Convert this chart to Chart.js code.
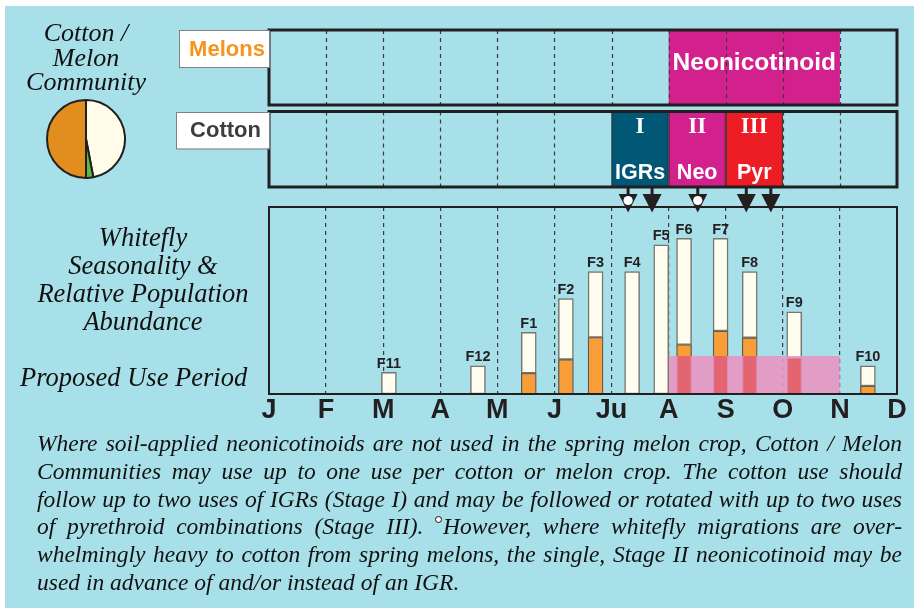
<!DOCTYPE html>
<html>
<head>
<meta charset="utf-8">
<script src="https://cdn.jsdelivr.net/npm/chart.js@4.4.1/dist/chart.umd.min.js"></script>
<style>
  body { margin:0; width:914px; height:608px; background:#fff; position:relative; overflow:hidden; }
  #bg { position:absolute; left:5px; top:6px; right:0; bottom:0; background:#a8e0ea; }
  canvas { position:absolute; }
  .lbl { position:absolute; font-family:'Liberation Serif','Times New Roman',serif; font-style:italic; color:#111; text-align:center; white-space:nowrap; }
  #note { position:absolute; left:37px; top:430px; width:865px; font:italic 23.5px/27.8px 'Liberation Serif','Times New Roman',serif; color:#111; }
  #note div { text-align:justify; text-align-last:justify; height:27.8px; }
  #note div.last { text-align-last:left; }
  .ring { display:inline-block; width:5px; height:5px; border:1.5px solid #111; border-radius:50%; background:#fff; vertical-align:11px; margin-right:1px; }
</style>
</head>
<body>
<div id="bg"></div>
<canvas id="main" width="914" height="440" style="left:0;top:0"></canvas>
<canvas id="pie" width="80" height="80" style="left:46px;top:99px"></canvas>

<div class="lbl" style="left:0;top:21px;width:172px;font-size:26px;line-height:24.5px">Cotton /<br>Melon<br>Community</div>
<div class="lbl" style="left:20px;top:224px;width:246px;font-size:26.5px;line-height:27.9px">Whitefly<br>Seasonality &amp;<br>Relative Population<br>Abundance</div>
<div class="lbl" style="left:20px;top:363px;font-size:26.5px;line-height:28px;text-align:left">Proposed Use Period</div>

<div id="note">
  <div>Where soil-applied neonicotinoids are not used in the spring melon crop, Cotton / Melon</div>
  <div>Communities may use up to one use per cotton or melon crop. The cotton use should</div>
  <div>follow up to two uses of IGRs (Stage I) and may be followed or rotated with up to two uses</div>
  <div>of pyrethroid combinations (Stage III). <span class="ring"></span>However, where whitefly migrations are over-</div>
  <div>whelmingly heavy to cotton from spring melons, the single, Stage II neonicotinoid may be</div>
  <div class="last">used in advance of and/or instead of an IGR.</div>
</div>

<script>
// -------------------- DATA -------------------
// months along the x axis (0 = January ... 11 = December)
const months = ['J','F','M','A','M','J','Ju','A','S','O','N','D'];

// whitefly flights: position in months, relative abundance, melon-derived part
const flightLabels = ['F11','F12','F1','F2','F3','F4','F5','F6','F7','F8','F9','F10'];
const flightMonth  = [2.10, 3.66, 4.55, 5.20, 5.72, 6.36, 6.87, 7.27, 7.91, 8.42, 9.20, 10.49];
const flightTotal  = [11.6, 15.1, 33.0, 51.0, 65.4, 65.4, 79.8, 83.3, 83.3, 65.4, 43.9, 15.1];
const flightMelon  = [0, 0, 11.1, 18.5, 30.3, 0, 0, 26.4, 33.7, 30.1, 18.9, 4.3];

// proposed use period (shaded band)
const proposedStart = 7;
const proposedEnd = 10;
const proposedLevel = 20.3;

// melons: neonicotinoid window
const melonNeoStart = 7;
const melonNeoEnd = 10;

// cotton stages
const stageNumeral = ['I','II','III'];
const stageName    = ['IGRs','Neo','Pyr'];
const stageStart   = [6, 7, 8];
const stageEnd     = [7, 8, 9];
const stageColor   = ['#005776','#d2208c','#ec1d25'];

// application arrows below cotton (open circle = optional neonicotinoid)
const applyMonth    = [6.29, 6.71, 7.51, 8.36, 8.79];
const applyOptional = [true, false, true, false, false];

// community pie
const pieLabels = ['Cotton','Other','Melons'];
const pieShares = [47, 3, 50];
const pieColors = ['#fffdea','#5cb848','#e28e1e'];

// -------------------- HELPERS -------------------
const SANS = "'Liberation Sans', Arial, sans-serif";
const SERIF = "'Liberation Serif', 'Times New Roman', serif";
const INK = '#231f20';

const MELON_TOP = 30, MELON_BOT = 105;
const COTTON_TOP = 111.5, COTTON_BOT = 187;

function dashedMonths(ctx, xs, top, bottom) {
  ctx.save();
  ctx.strokeStyle = '#3a3a3a';
  ctx.lineWidth = 1.2;
  ctx.setLineDash([4, 4]);
  for (let m = 1; m < months.length - 1; ++m) {
    let x = Math.round(xs.getPixelForValue(m)) + 0.5;
    ctx.beginPath();
    ctx.moveTo(x, top);
    ctx.lineTo(x, bottom);
    ctx.stroke();
  }
  ctx.restore();
}

function labelBox(ctx, x1, y1, x2, y2, text, color) {
  ctx.fillStyle = '#fff';
  ctx.fillRect(x1, y1, x2 - x1, y2 - y1);
  ctx.strokeStyle = '#808080';
  ctx.lineWidth = 1;
  ctx.strokeRect(x1 + 0.5, y1 + 0.5, x2 - x1, y2 - y1);
  ctx.fillStyle = color;
  ctx.font = 'bold 22px ' + SANS;
  ctx.textAlign = 'center';
  ctx.textBaseline = 'middle';
  ctx.fillText(text, (x1 + x2) / 2 + 3, (y1 + y2) / 2 + 1);
}

// -------------------- PLUGIN -------------------
const panels = {
  id: 'panels',
  afterDatasetsDraw(chart) {
    const ctx = chart.ctx;
    const xs = chart.scales.x, ys = chart.scales.y;
    const area = chart.chartArea;
    const px1 = xs.getPixelForValue(proposedStart);
    const px2 = xs.getPixelForValue(proposedEnd);
    const pTop = ys.getPixelForValue(proposedLevel);

    // melon part of bars seen through the band turns red
    ctx.save();
    ctx.fillStyle = 'rgba(226,98,110,0.95)';
    chart.getDatasetMeta(0).data.forEach(el => {
      if (el.x < px1 || el.x > px2) return;
      let top = Math.max(el.y, pTop);
      ctx.fillRect(el.x - el.width / 2 + 1, top, el.width - 2, el.base - top);
    });
    ctx.restore();

    // frame
    ctx.save();
    ctx.strokeStyle = INK;
    ctx.lineWidth = 2;
    ctx.strokeRect(area.left, area.top, area.right - area.left, area.bottom - area.top);
    ctx.restore();

    // flight labels
    ctx.save();
    ctx.fillStyle = INK;
    ctx.font = 'bold 14.5px ' + SANS;
    ctx.textAlign = 'center';
    ctx.textBaseline = 'alphabetic';
    chart.getDatasetMeta(1).data.forEach((el, i) => {
      ctx.fillText(flightLabels[i], el.x, el.y - 4.5);
    });
    ctx.restore();
  },
  afterDraw(chart) {
    const ctx = chart.ctx;
    const xs = chart.scales.x;
    const L = chart.chartArea.left, R = chart.chartArea.right;
    ctx.save();

    // melons panel
    let n1 = xs.getPixelForValue(melonNeoStart), n2 = xs.getPixelForValue(melonNeoEnd);
    ctx.fillStyle = '#d2208c';
    ctx.fillRect(n1, MELON_TOP, n2 - n1, MELON_BOT - MELON_TOP);
    dashedMonths(ctx, xs, MELON_TOP, MELON_BOT);
    ctx.fillStyle = '#fff';
    ctx.font = 'bold 24.5px ' + SANS;
    ctx.textAlign = 'center';
    ctx.textBaseline = 'middle';
    ctx.fillText('Neonicotinoid', (n1 + n2) / 2, 63);
    ctx.strokeStyle = INK;
    ctx.lineWidth = 3;
    ctx.strokeRect(L, MELON_TOP, R - L, MELON_BOT - MELON_TOP);
    labelBox(ctx, 179, 30, L, 67, 'Melons', '#f7941d');

    // cotton panel
    dashedMonths(ctx, xs, COTTON_TOP, COTTON_BOT);
    for (let i = 0; i < stageName.length; ++i) {
      let a = xs.getPixelForValue(stageStart[i]), b = xs.getPixelForValue(stageEnd[i]);
      ctx.fillStyle = stageColor[i];
      ctx.fillRect(a, COTTON_TOP, b - a, COTTON_BOT - COTTON_TOP);
      ctx.strokeStyle = '#333';
      ctx.lineWidth = 1;
      ctx.strokeRect(a + 0.5, COTTON_TOP, b - a - 1, COTTON_BOT - COTTON_TOP);
      ctx.fillStyle = '#fff';
      ctx.textAlign = 'center';
      ctx.textBaseline = 'middle';
      ctx.font = 'bold 23px ' + SERIF;
      ctx.fillText(stageNumeral[i], (a + b) / 2, 127);
      ctx.font = 'bold 21.5px ' + SANS;
      ctx.fillText(stageName[i], (a + b) / 2, 173);
    }
    ctx.strokeStyle = INK;
    ctx.lineWidth = 3;
    ctx.strokeRect(L, COTTON_TOP, R - L, COTTON_BOT - COTTON_TOP);
    labelBox(ctx, 176, 112, L, 148.5, 'Cotton', '#3d3d3d');

    // application arrows
    for (let i = 0; i < applyMonth.length; ++i) {
      let x = xs.getPixelForValue(applyMonth[i]);
      ctx.fillStyle = INK;
      ctx.fillRect(x - 1.5, COTTON_BOT, 3, 8);
      ctx.beginPath();
      ctx.moveTo(x - 9.5, 194);
      ctx.lineTo(x + 9.5, 194);
      ctx.lineTo(x, 212.5);
      ctx.closePath();
      ctx.fill();
      if (applyOptional[i]) {
        ctx.fillStyle = '#fff';
        ctx.beginPath();
        ctx.arc(x, 200.5, 4.6, 0, Math.PI * 2);
        ctx.fill();
      }
    }
    ctx.restore();
  }
};

// -------------------- CHARTS -------------------
let melonBars = [];
let whiteBars = [];
for (let i = 0; i < flightMonth.length; ++i) {
  if (flightMelon[i] > 0) melonBars.push({x: flightMonth[i], y: [0, flightMelon[i]]});
  whiteBars.push({x: flightMonth[i], y: [flightMelon[i], flightTotal[i]]});
}

new Chart(document.getElementById('main'), {
  type: 'bar',
  data: {
    datasets: [
      {
        label: 'From melons',
        data: melonBars,
        backgroundColor: '#f99d39',
        borderColor: '#5d5a50',
        borderWidth: 1.3,
        borderSkipped: false,
        barThickness: 15,
        grouped: false,
        order: 2
      },
      {
        label: 'Whitefly abundance',
        data: whiteBars,
        backgroundColor: '#fffcf0',
        borderColor: '#77766c',
        borderWidth: 1.5,
        borderSkipped: false,
        barThickness: 15,
        grouped: false,
        order: 1
      },
      {
        type: 'line',
        label: 'Proposed use period',
        data: [{x: proposedStart, y: proposedLevel}, {x: proposedEnd, y: proposedLevel}],
        borderWidth: 0,
        pointRadius: 0,
        fill: 'origin',
        backgroundColor: 'rgba(232,150,194,0.9)',
        order: 0
      }
    ]
  },
  options: {
    responsive: false,
    animation: false,
    layout: { padding: { left: 269, right: 17, top: 207, bottom: 13.6 } },
    plugins: { legend: { display: false }, tooltip: { enabled: false } },
    scales: {
      x: {
        type: 'linear',
        min: 0,
        max: months.length - 1,
        offset: false,
        grid: { offset: false, color: '#3a3a3a', lineWidth: 1.2, drawTicks: false },
        border: { display: false, dash: [4, 4] },
        ticks: {
          stepSize: 1,
          autoSkip: false,
          maxRotation: 0,
          padding: 0,
          color: INK,
          font: { family: SANS, size: 27, weight: 'bold' },
          callback: v => months[v]
        }
      },
      y: { display: false, min: 0, max: 100 }
    }
  },
  plugins: [panels]
});

new Chart(document.getElementById('pie'), {
  type: 'pie',
  data: {
    labels: pieLabels,
    datasets: [{ data: pieShares, backgroundColor: pieColors, borderColor: INK, borderWidth: 2 }]
  },
  options: {
    responsive: false,
    animation: false,
    plugins: { legend: { display: false }, tooltip: { enabled: false } }
  }
});
</script>
</body>
</html>
